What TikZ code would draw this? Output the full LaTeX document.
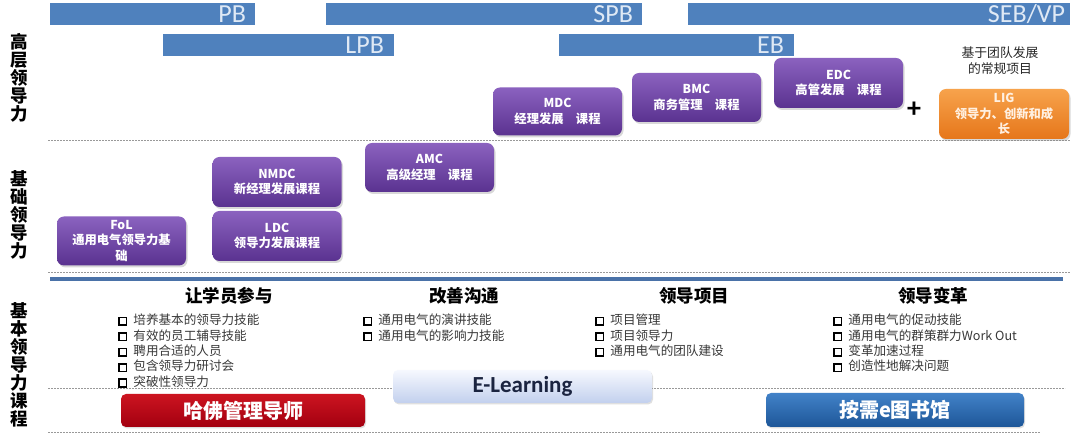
\documentclass[tikz,border=0pt]{standalone}
\usepackage{fontspec}
\setmainfont{Carlito}
\newfontfamily\cjk{Noto Sans CJK SC}
\usetikzlibrary{shadows}
\definecolor{barblue}{HTML}{4F81BD}
\definecolor{bartext}{HTML}{DFE9F5}
\definecolor{ptop}{HTML}{8B62BF}
\definecolor{pbot}{HTML}{5A3290}
\definecolor{otop}{HTML}{F7A34C}
\definecolor{obot}{HTML}{E6761A}
\definecolor{rtop}{HTML}{CC1420}
\definecolor{rbot}{HTML}{A30010}
\definecolor{btop}{HTML}{4282C8}
\definecolor{bbot}{HTML}{1D5698}
\definecolor{etop}{HTML}{F6F8FE}
\definecolor{ebot}{HTML}{C2D0EE}
\definecolor{rule}{HTML}{4A72A8}
\newcommand\sqbullet{{\color{black}\raisebox{0.3pt}{\setlength\fboxsep{0pt}\setlength\fboxrule{1.6pt}\fbox{\rule{0pt}{6pt}\rule{6pt}{0pt}}}}\hspace{6pt}}
\begin{document}
\begin{tikzpicture}[x=1pt,y=-1pt,
  bar/.style={fill=barblue, draw=none, inner sep=0pt, minimum height=22pt},
  bartxt/.style={anchor=east, inner sep=0pt, text=bartext, font=\fontsize{26}{26}\selectfont},
  pbox/.style={rounded corners=7pt, top color=ptop, bottom color=pbot, draw=none,
    text=white, align=center, inner sep=1pt, minimum width=129pt, minimum height=49pt,
    font={\cjk\bfseries\fontsize{12.3}{15.5}\selectfont},
    drop shadow={opacity=0.3, shadow xshift=1.5pt, shadow yshift=-2pt}},
  side/.style={align=center, inner sep=0pt, font={\cjk\bfseries\fontsize{17.5}{18}\selectfont}},
  head/.style={inner sep=0pt, font={\cjk\bfseries\fontsize{17.5}{18}\selectfont}},
  item/.style={anchor=west, inner sep=0pt, text=black!78, font={\cjk\fontsize{12.6}{14}\selectfont}},
  sep/.style={draw=black!40, line width=0.8pt, dash pattern=on 2pt off 1pt},
  bigbox/.style={rounded corners=5pt, draw=none, inner sep=0pt,
    drop shadow={opacity=0.25, shadow xshift=1pt, shadow yshift=-1.5pt}}
]
\useasboundingbox[fill=white] (0,0) rectangle (1080,443);

% separator lines
\draw[sep] (48,140) -- (1070,140);
\draw[sep] (48,272) -- (1070,272);
\draw[sep] (48,388) -- (1065,388);
\draw[sep] (48,432) -- (1040,432);
\draw[line width=3.5pt, rule] (50,279) -- (1063,279);

% top bars
\node[bar, minimum width=205pt] (pb) at (152.5,14) {};
\node[bartxt] (pbt) at ([xshift=-9pt]pb.east) {PB};
\node[bar, minimum width=316pt] (spb) at (484,14) {};
\node[bartxt] (spbt) at ([xshift=-9pt]spb.east) {SPB};
\node[bar, minimum width=382pt] (seb) at (879,14) {};
\node[bartxt] (sebt) at ([xshift=-5pt]seb.east) {SEB/VP};
\node[bar, minimum width=231pt] (lpb) at (278.5,45) {};
\node[bartxt] (lpbt) at ([xshift=-10pt]lpb.east) {LPB};
\node[bar, minimum width=235pt] (eb) at (676.5,45) {};
\node[bartxt] (ebt) at ([xshift=-10pt]eb.east) {EB};

% side labels
\node[side] (s1) at (19,78) {高\\层\\领\\导\\力};
\node[side] (s2) at (19,215) {基\\础\\领\\导\\力};
\node[side] (s3) at (19,365) {基\\本\\领\\导\\力\\课\\程};

% purple course boxes
\node[pbox] (fol) at (121.5,241) {FoL\\通用电气领导力基\\础};
\node[pbox, minimum width=129pt, minimum height=50pt] (nmdc) at (277,182) {NMDC\\新经理发展课程};
\node[pbox, minimum width=129pt, minimum height=50pt] (ldc) at (277,236) {LDC\\领导力发展课程};
\node[pbox] (amc) at (429.5,167.5) {AMC\\高级经理　课程};
\node[pbox, minimum height=48pt] (mdc) at (557.5,111.5) {MDC\\经理发展　课程};
\node[pbox] (bmc) at (696.5,97.5) {BMC\\商务管理　课程};
\node[pbox, minimum height=50pt] (edc) at (838.5,83) {EDC\\高管发展　课程};
\node[pbox, top color=otop, bottom color=obot, text={rgb,255:red,255;green,240;blue,225}, minimum width=130pt, minimum height=50pt] (lig) at (1004,114) {LIG\\领导力、创新和成\\长};
\node[inner sep=0pt, font=\bfseries\fontsize{28}{28}\selectfont] (plus) at (914,110) {+};
\node[align=center, inner sep=0pt, text=black!85, font={\cjk\fontsize{12.8}{16}\selectfont}] (team) at (1000,60.5) {基于团队发展\\的常规项目};

% bottom headings
\node[head] (h1) at (229,296) {让学员参与};
\node[head] (h2) at (464,296) {改善沟通};
\node[head] (h3) at (694,296) {领导项目};
\node[head] (h4) at (933,296) {领导变革};

% bullet lists
\foreach \t [count=\i] in {培养基本的领导力技能,有效的员工辅导技能,聘用合适的人员,包含领导力研讨会,突破性领导力}
  \node[item] (a\i) at (118,{320+15.4*(\i-1)}) {\sqbullet\t};
\foreach \t [count=\i] in {通用电气的演讲技能,通用电气的影响力技能}
  \node[item] (b\i) at (363,{320+15.4*(\i-1)}) {\sqbullet\t};
\foreach \t [count=\i] in {项目管理,项目领导力,通用电气的团队建设}
  \node[item] (c\i) at (595,{320+15.4*(\i-1)}) {\sqbullet\t};
\foreach \t [count=\i] in {通用电气的促动技能,通用电气的群策群力Work Out,变革加速过程,创造性地解决问题}
  \node[item] (d\i) at (833,{320+15.4*(\i-1)}) {\sqbullet\t};

% bottom resource boxes
\node[bigbox, top color=rtop, bottom color=rbot, minimum width=244pt, minimum height=33pt,
  text=white, font={\cjk\bfseries\fontsize{20}{20}\selectfont}] (hbs) at (243,410.5) {哈佛管理导师};
\node[bigbox, top color=etop, bottom color=ebot, minimum width=259pt, minimum height=33pt,
  text={rgb,255:red,27;green,36;blue,64}, font=\bfseries\fontsize{23}{23}\selectfont] (elearn) at (522.5,386.5) {E-Learning};
\node[bigbox, top color=btop, bottom color=bbot, minimum width=258pt, minimum height=34pt,
  text=white, font={\cjk\bfseries\fontsize{20}{20}\selectfont}] (elib) at (895,410) {按需e图书馆};
\end{tikzpicture}
\end{document}
